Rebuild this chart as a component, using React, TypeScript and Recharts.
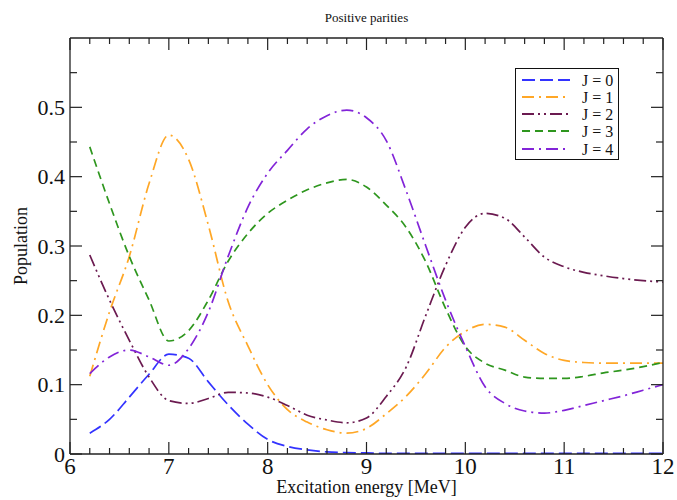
import { LineChart, Line, XAxis, YAxis, Legend } from "recharts";

// excitation energy grid (MeV)
const ENERGY = [
  6.2, 6.4, 6.6, 6.8, 7.0, 7.2, 7.4, 7.6, 7.8, 8.0, 8.2, 8.4, 8.6, 8.8, 9.0,
  9.2, 9.4, 9.6, 9.8, 10.0, 10.2, 10.4, 10.6, 10.8, 11.0, 11.2, 11.4, 11.6, 11.8, 12.0,
];

const J0 = [
  0.03, 0.05, 0.082, 0.115, 0.144, 0.138, 0.104, 0.071, 0.043, 0.021, 0.011, 0.006, 0.003, 0.002, 0.0015,
  0.001, 0.001, 0.001, 0.001, 0.001, 0.001, 0.001, 0.001, 0.001, 0.001, 0.001, 0.001, 0.001, 0.001, 0.001,
];
const J1 = [
  0.112, 0.205, 0.285, 0.39, 0.46, 0.425, 0.33, 0.22, 0.156, 0.1, 0.064, 0.046, 0.035, 0.03, 0.037,
  0.058, 0.083, 0.116, 0.154, 0.177, 0.187, 0.183, 0.164, 0.145, 0.135, 0.132, 0.131, 0.131, 0.131, 0.131,
];
const J2 = [
  0.287, 0.222, 0.164, 0.111, 0.077, 0.073, 0.08, 0.089, 0.088, 0.082, 0.07, 0.056, 0.049, 0.045, 0.052,
  0.083, 0.125, 0.2, 0.272, 0.327, 0.347, 0.34, 0.313, 0.284, 0.27, 0.262, 0.257, 0.253, 0.25, 0.248,
];
const J3 = [
  0.443, 0.361, 0.285, 0.222, 0.163, 0.178, 0.222, 0.278, 0.318, 0.347, 0.366, 0.381, 0.391, 0.396, 0.385,
  0.359, 0.327, 0.277, 0.21, 0.155, 0.131, 0.121, 0.111, 0.109, 0.109, 0.112, 0.117, 0.121, 0.126, 0.132,
];
const J4 = [
  0.116, 0.14, 0.15, 0.14, 0.128, 0.152, 0.205, 0.285, 0.356, 0.405, 0.438, 0.469, 0.488, 0.496, 0.485,
  0.452, 0.38, 0.3, 0.222, 0.155, 0.097, 0.073, 0.062, 0.059, 0.063, 0.07, 0.077, 0.084, 0.092, 0.1,
];

const SERIES_KEYS = ["j0", "j1", "j2", "j3", "j4"];
const SERIES_NAMES = ["J = 0", "J = 1", "J = 2", "J = 3", "J = 4"];

const data = ENERGY.map((x, i) => ({
  x,
  j0: J0[i],
  j1: J1[i],
  j2: J2[i],
  j3: J3[i],
  j4: J4[i],
}));

const COLORS = ["#3333ff", "#ffa726", "#6b1a50", "#2e961e", "#8224d8"];
const DASHES = ["13 5", "12 5 2 5", "12 4 2 4 2 4", "8 5", "12 5 2 5"];

const X_TICKS = Array.from({ length: 31 }, (_, i) => Math.round((6 + i * 0.2) * 10) / 10);
const Y_TICKS = Array.from({ length: 12 }, (_, i) => Math.round(i * 5) / 100);

const INK = "#222";
const FONT = "Liberation Serif";

const isMajorX = (v: number) => Math.abs(v - Math.round(v)) < 1e-6;
const isMajorY = (v: number) => Math.abs(v * 10 - Math.round(v * 10)) < 1e-6;

// tickSize=1, tickMargin=0 -> tick props sit 1px outside the axis line
function BottomTick({ x, y, payload }: any) {
  const ay = y - 1;
  const major = isMajorX(payload.value);
  return (
    <g>
      <line x1={x} x2={x} y1={ay} y2={ay - (major ? 12 : 6)} stroke={INK} strokeWidth={1.2} />
      {major && (
        <text x={x} y={ay + 20} textAnchor="middle" fontSize={23} fontFamily={FONT} fill="#111">
          {payload.value}
        </text>
      )}
    </g>
  );
}

function TopTick({ x, y, payload }: any) {
  const ay = y + 1;
  const major = isMajorX(payload.value);
  return <line x1={x} x2={x} y1={ay} y2={ay + (major ? 12 : 6)} stroke={INK} strokeWidth={1.2} />;
}

function LeftTick({ x, y, payload }: any) {
  const ax = x + 1;
  const v = payload.value;
  const major = isMajorY(v);
  return (
    <g>
      <line x1={ax} x2={ax + (major ? 12 : 7)} y1={y} y2={y} stroke={INK} strokeWidth={1.2} />
      {major && (
        <text x={ax - 5} y={y + 7.5} textAnchor="end" fontSize={22} fontFamily={FONT} fill="#111">
          {v === 0 ? "0" : v.toFixed(1)}
        </text>
      )}
    </g>
  );
}

function RightTick({ x, y, payload }: any) {
  const ax = x - 1;
  const major = isMajorY(payload.value);
  return <line x1={ax} x2={ax - (major ? 12 : 7)} y1={y} y2={y} stroke={INK} strokeWidth={1.2} />;
}

function LegendBox({ payload }: any) {
  const rows = [12, 29, 46, 63, 81];
  return (
    <div style={{ width: 104, height: 92, border: "1.5px solid #111", background: "#fff", boxSizing: "border-box" }}>
      <svg width={101} height={89} style={{ display: "block" }}>
        {(payload || []).map((p: any, i: number) => {
          const k = SERIES_KEYS.indexOf(p.dataKey);
          const cy = rows[i] - 1;
          return (
            <g key={p.dataKey}>
              <line x1={6} x2={54} y1={cy} y2={cy} stroke={COLORS[k]} strokeWidth={2.2} strokeDasharray={DASHES[k]} />
              <text x={66} y={cy + 5.5} fontSize={16} fontFamily={FONT} fill="#111">
                {p.value}
              </text>
            </g>
          );
        })}
      </svg>
    </div>
  );
}

function YTitle({ viewBox }: any) {
  const cx = viewBox.x + 27;
  const cy = viewBox.y + viewBox.height / 2;
  return (
    <text x={cx} y={cy} transform={`rotate(-90, ${cx}, ${cy})`} textAnchor="middle" fontSize={18} fontFamily={FONT} fill="#111">
      Population
    </text>
  );
}

export default function App() {
  return (
    <div style={{ position: "absolute", left: 0, top: 0, width: 677, height: 500, background: "#fff", fontFamily: FONT }}>
      <LineChart width={677} height={500} data={data} margin={{ top: 37, right: 13, bottom: 0, left: 0 }}>
        <XAxis
          dataKey="x"
          type="number"
          domain={[6, 12]}
          ticks={X_TICKS}
          interval={0}
          height={46}
          tickSize={1}
          tickMargin={0}
          tickLine={false}
          tick={<BottomTick />}
          axisLine={{ stroke: INK, strokeWidth: 1.3 }}
          allowDataOverflow
          label={{ value: "Excitation energy [MeV]", position: "insideBottom", offset: 7, fontSize: 18, fontFamily: FONT, fill: "#111" }}
        />
        <XAxis
          xAxisId="top"
          dataKey="x"
          type="number"
          orientation="top"
          domain={[6, 12]}
          ticks={X_TICKS}
          interval={0}
          height={1}
          tickSize={1}
          tickMargin={0}
          tickLine={false}
          tick={<TopTick />}
          axisLine={{ stroke: INK, strokeWidth: 1.3 }}
          allowDataOverflow
          label={{ value: "Positive parities", position: "top", offset: 15, fontSize: 13, fontFamily: FONT, fill: "#111" }}
        />
        <YAxis
          type="number"
          domain={[0, 0.6]}
          ticks={Y_TICKS}
          interval={0}
          width={70}
          tickSize={1}
          tickMargin={0}
          tickLine={false}
          tick={<LeftTick />}
          axisLine={{ stroke: INK, strokeWidth: 1.3 }}
          allowDataOverflow
          label={{ position: "center", content: <YTitle /> }}
        />
        <YAxis
          yAxisId="right"
          orientation="right"
          type="number"
          domain={[0, 0.6]}
          ticks={Y_TICKS}
          interval={0}
          width={1}
          tickSize={1}
          tickMargin={0}
          tickLine={false}
          tick={<RightTick />}
          axisLine={{ stroke: INK, strokeWidth: 1.3 }}
          allowDataOverflow
        />
        <Legend
          layout="vertical"
          align="center"
          verticalAlign="middle"
          content={<LegendBox />}
          wrapperStyle={{ left: 515, top: 68, width: 104, height: 92 }}
        />
        {SERIES_KEYS.map((k, i) => (
          <Line
            key={k}
            type="monotone"
            dataKey={k}
            name={SERIES_NAMES[i]}
            stroke={COLORS[i]}
            strokeWidth={1.7}
            strokeDasharray={DASHES[i]}
            dot={false}
            activeDot={false}
            isAnimationActive={false}
          />
        ))}
      </LineChart>
    </div>
  );
}
